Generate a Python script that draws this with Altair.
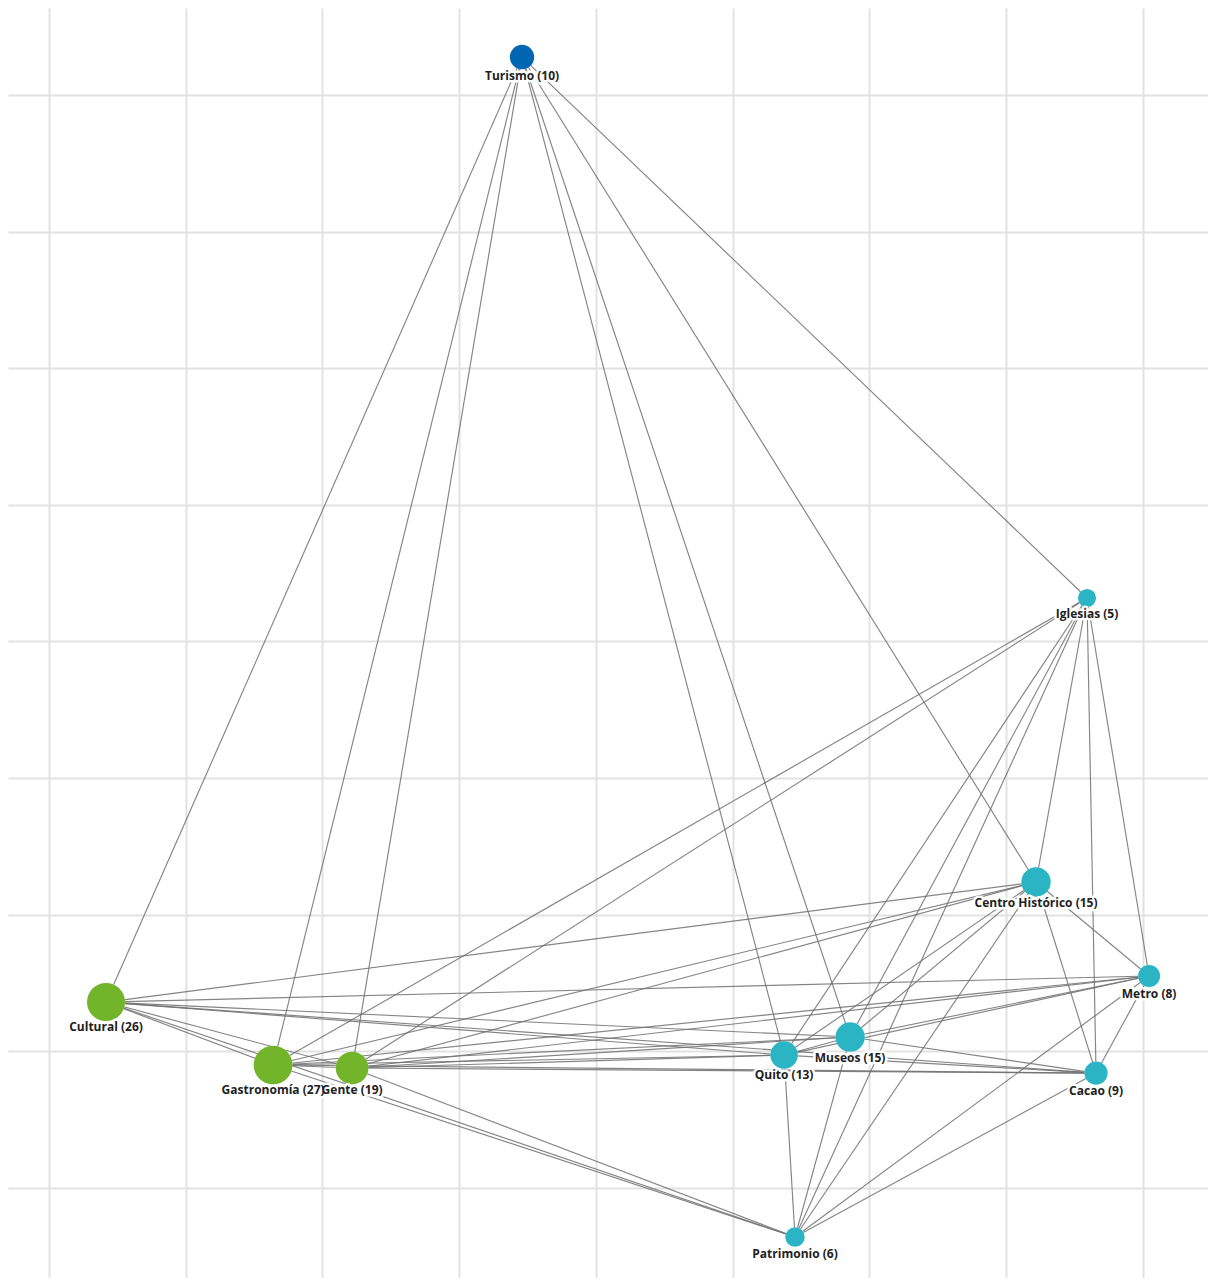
import math
import altair as alt
import pandas as pd

# ---- data ----
names = ["Turismo", "Iglesias", "Centro Histórico", "Metro", "Museos", "Quito",
         "Cacao", "Patrimonio", "Cultural", "Gastronomía", "Gente"]
counts = [10, 5, 15, 8, 15, 13, 9, 6, 26, 27, 19]
groups = ["tema", "lugar", "lugar", "lugar", "lugar", "lugar",
          "lugar", "lugar", "tipo", "tipo", "tipo"]
# layout coordinates (grid units)
node_x = [3.460, 7.593, 7.220, 8.047, 5.860, 5.377, 7.659, 5.457, 0.417, 1.639, 2.217]
node_y = [-0.278, 3.682, 5.761, 6.449, 6.896, 7.028, 7.160, 8.360, 6.640, 7.101, 7.123]

edge_source = [
    "Turismo", "Turismo", "Turismo", "Turismo", "Turismo", "Turismo", "Turismo",
    "Iglesias", "Iglesias", "Iglesias", "Iglesias", "Iglesias", "Iglesias", "Iglesias", "Iglesias",
    "Centro Histórico", "Centro Histórico", "Centro Histórico", "Centro Histórico",
    "Centro Histórico", "Centro Histórico", "Centro Histórico", "Centro Histórico",
    "Metro", "Metro", "Metro", "Metro", "Metro", "Metro", "Metro",
    "Cacao", "Cacao", "Cacao", "Cacao", "Cacao", "Cacao",
    "Patrimonio", "Patrimonio", "Patrimonio", "Patrimonio", "Patrimonio",
    "Cultural", "Cultural", "Cultural", "Cultural",
    "Gastronomía", "Gastronomía", "Gastronomía",
    "Gente", "Gente",
    "Quito",
]
edge_target = [
    "Cultural", "Gastronomía", "Gente", "Quito", "Museos", "Centro Histórico", "Iglesias",
    "Gastronomía", "Gente", "Quito", "Museos", "Patrimonio", "Centro Histórico", "Cacao", "Metro",
    "Cultural", "Gastronomía", "Gente", "Quito",
    "Museos", "Metro", "Cacao", "Patrimonio",
    "Cultural", "Gastronomía", "Gente", "Museos", "Quito", "Cacao", "Patrimonio",
    "Quito", "Museos", "Gastronomía", "Gente", "Patrimonio", "Cultural",
    "Cultural", "Gastronomía", "Gente", "Quito", "Museos",
    "Gastronomía", "Gente", "Quito", "Museos",
    "Gente", "Quito", "Museos",
    "Quito", "Museos",
    "Museos",
]

grid_values = [0, 1, 2, 3, 4, 5, 6, 7, 8]
group_domain = ["tema", "lugar", "tipo"]
group_colors = ["#0066b3", "#2bb5c4", "#72b52a"]

# ---- tables ----
nodes = pd.DataFrame({"name": names, "count": counts, "group": groups,
                      "x": node_x, "y": node_y})
nodes["label"] = [f"{n} ({c})" for n, c in zip(names, counts)]
PX_PER_UNIT = 136.6
max_count = 27
nodes["ly"] = [y + (16 * math.sqrt(c / max_count) + 9) / PX_PER_UNIT
               for y, c in zip(node_y, counts)]

pos = {n: (x, y) for n, x, y in zip(names, node_x, node_y)}
edges = pd.DataFrame({
    "source": edge_source,
    "target": edge_target,
    "x": [pos[s][0] for s in edge_source],
    "y": [pos[s][1] for s in edge_source],
    "x2": [pos[t][0] for t in edge_target],
    "y2": [pos[t][1] for t in edge_target],
})

W, H = 1200, 1270
x_domain = [-0.30, 8.478]
y_domain = [-0.637, 8.66]

xs = alt.Scale(domain=x_domain, nice=False, zero=False)
ys = alt.Scale(domain=y_domain, nice=False, zero=False, reverse=True)

x_axis = alt.Axis(values=grid_values, grid=True, labels=False, ticks=False,
                  domain=False, title=None, gridColor="#e2e2e2", gridWidth=2)
y_axis = alt.Axis(values=grid_values, grid=True, labels=False, ticks=False,
                  domain=False, title=None, gridColor="#e2e2e2", gridWidth=2)

edge_layer = alt.Chart(edges).mark_rule(color="#6e6e6e", strokeWidth=1.15, opacity=0.85).encode(
    x=alt.X("x:Q", scale=xs, axis=x_axis),
    y=alt.Y("y:Q", scale=ys, axis=y_axis),
    x2="x2:Q",
    y2="y2:Q",
)

halo_layer = alt.Chart(nodes).mark_point(filled=True, shape="circle", color="white", opacity=0.8).encode(
    x=alt.X("x:Q", scale=xs),
    y=alt.Y("y:Q", scale=ys),
    size=alt.Size("count:Q", scale=alt.Scale(domain=[0, max_count], range=[60, 1500]), legend=None),
)

node_layer = alt.Chart(nodes).mark_point(filled=True, shape="circle", opacity=1).encode(
    x=alt.X("x:Q", scale=xs),
    y=alt.Y("y:Q", scale=ys),
    size=alt.Size("count:Q", scale=alt.Scale(domain=[0, max_count], range=[0, 1024]), legend=None),
    color=alt.Color("group:N", scale=alt.Scale(domain=group_domain, range=group_colors), legend=None),
)

label_bg = alt.Chart(nodes).mark_text(
    font="Open Sans", fontSize=12, fontWeight="bold", baseline="middle", align="center",
    stroke="white", strokeWidth=5, strokeJoin="round", color="white",
).encode(
    x=alt.X("x:Q", scale=xs),
    y=alt.Y("ly:Q", scale=ys),
    text="label:N",
)

label_layer = alt.Chart(nodes).mark_text(
    font="Open Sans", fontSize=12, fontWeight="bold", baseline="middle", align="center",
    color="#222222",
).encode(
    x=alt.X("x:Q", scale=xs),
    y=alt.Y("ly:Q", scale=ys),
    text="label:N",
)

chart = alt.layer(edge_layer, halo_layer, node_layer, label_bg, label_layer).properties(
    width=W, height=H, padding=0, background="white"
).configure_view(stroke=None)

chart.save("out.html", embed_options={"renderer": "svg", "actions": False})
